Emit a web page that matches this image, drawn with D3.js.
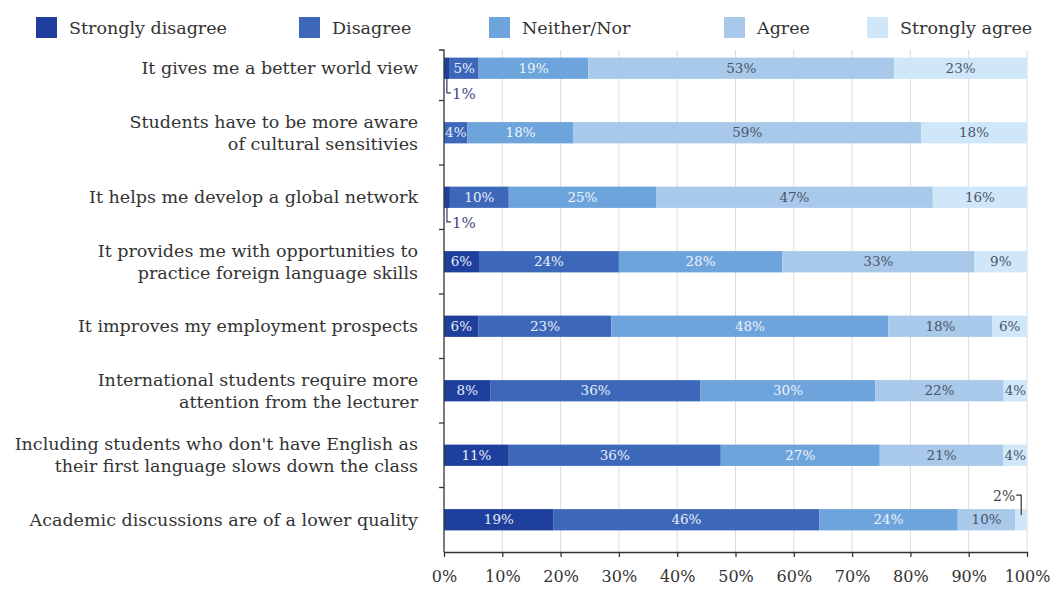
<!DOCTYPE html>
<html><head><meta charset="utf-8">
<script src="https://cdn.jsdelivr.net/npm/d3@7"></script>
<style>body{margin:0;background:#fff}svg{display:block}</style>
</head><body><svg id="chart" width="1055" height="589"></svg>
<script>
const categories = [
  "It gives me a better world view",
  "Students have to be more aware\nof cultural sensitivies",
  "It helps me develop a global network",
  "It provides me with opportunities to\npractice foreign language skills",
  "It improves my employment prospects",
  "International students require more\nattention from the lecturer",
  "Including students who don't have English as\ntheir first language slows down the class",
  "Academic discussions are of a lower quality"
];
const seriesNames = ["Strongly disagree", "Disagree", "Neither/Nor", "Agree", "Strongly agree"];
const stronglyDisagree = [1, 0, 1, 6, 6, 8, 11, 19];
const disagree         = [5, 4, 10, 24, 23, 36, 36, 46];
const neitherNor       = [19, 18, 25, 28, 48, 30, 27, 24];
const agree            = [53, 59, 47, 33, 18, 22, 21, 10];
const stronglyAgree    = [23, 18, 16, 9, 6, 4, 4, 2];
const xTickValues = [0, 10, 20, 30, 40, 50, 60, 70, 80, 90, 100];

const colors = ["#1f3f9c", "#3d68ba", "#6da4dc", "#a8c9ea", "#cfe7f8"];
const labelColors = ["#e8eefa", "#e8eefa", "#eef4fb", "#4a5468", "#4a5468"];
const FONT = "DejaVu Serif";

const seriesValues = [stronglyDisagree, disagree, neitherNor, agree, stronglyAgree];
const rows = categories.map((c, i) => {
  const o = {category: c};
  seriesNames.forEach((k, j) => o[k] = seriesValues[j][i]);
  return o;
});

const svg = d3.select("#chart");
const x = d3.scaleLinear().domain([0, 1]).range([444, 1027]);
const y = d3.scaleBand().domain(categories).range([36, 552]).paddingInner(0.67).paddingOuter(0.335);
const axisTop = 50;

// gridlines
svg.append("g").selectAll("line").data(xTickValues.filter(d => d > 0)).join("line")
  .attr("x1", d => x(d / 100)).attr("x2", d => x(d / 100))
  .attr("y1", axisTop).attr("y2", y.range()[1])
  .attr("stroke", "#dcdcdc").attr("stroke-width", 1);

// stacked bars
const stack = d3.stack().keys(seriesNames).offset(d3.stackOffsetExpand);
const series = stack(rows);

const gBars = svg.append("g");
series.forEach((s, si) => {
  gBars.append("g").attr("fill", colors[si]).selectAll("rect").data(s).join("rect")
    .attr("x", d => x(d[0])).attr("width", d => x(d[1]) - x(d[0]))
    .attr("y", d => y(d.data.category)).attr("height", y.bandwidth());
});

// segment labels
const gLab = svg.append("g").attr("font-family", FONT).attr("font-size", 13.5);
series.forEach((s, si) => {
  s.forEach(d => {
    const v = d.data[s.key];
    if (v === 0) return;
    const cx = (x(d[0]) + x(d[1])) / 2;
    const top = y(d.data.category), bot = top + y.bandwidth();
    if (v <= 2) {
      if (si === 0) {
        gLab.append("path").attr("fill", "none").attr("stroke", "#2c3a6e").attr("stroke-width", 1.2)
          .attr("d", `M${cx},${bot - 2}V${bot + 14}H${cx + 4}`);
        gLab.append("text").attr("x", cx + 5).attr("y", bot + 15).attr("dy", "0.35em")
          .attr("font-size", 15).attr("fill", "#3d4a85").text(v + "%");
      } else {
        gLab.append("path").attr("fill", "none").attr("stroke", "#333").attr("stroke-width", 1.2)
          .attr("d", `M${cx},${top + 6}V${top - 14}H${cx - 5}`);
        gLab.append("text").attr("x", cx - 6).attr("y", top - 13).attr("dy", "0.35em")
          .attr("font-size", 14).attr("text-anchor", "end").attr("fill", "#444").text(v + "%");
      }
    } else {
      gLab.append("text").attr("x", cx).attr("y", top + y.bandwidth() / 2).attr("dy", "0.35em")
        .attr("text-anchor", "middle").attr("fill", labelColors[si]).text(v + "%");
    }
  });
});

// y axis
const gy = svg.append("g");
gy.append("path").attr("fill", "none").attr("stroke", "#333").attr("stroke-width", 1.3)
  .attr("d", `M439,${axisTop}H444V${y.range()[1]}`);
gy.selectAll("line").data(categories.slice(1)).join("line")
  .attr("x1", 439).attr("x2", 444)
  .attr("y1", d => y(d) - y.step() * y.paddingInner() / 2)
  .attr("y2", d => y(d) - y.step() * y.paddingInner() / 2)
  .attr("stroke", "#333").attr("stroke-width", 1.3);

// category labels
const gCat = svg.append("g").attr("font-family", FONT).attr("font-size", 17.5).attr("fill", "#333").attr("text-anchor", "end");
categories.forEach(c => {
  const lines = c.split("\n");
  const cy = y(c) + y.bandwidth() / 2;
  const t = gCat.append("text").attr("x", 418);
  lines.forEach((ln, i) => {
    t.append("tspan").attr("x", 418).attr("y", cy + (i - (lines.length - 1) / 2) * 22).attr("dy", "0.35em").text(ln);
  });
});

// x axis
const xAxis = d3.axisBottom(x).tickValues(xTickValues.map(d => d / 100))
  .tickFormat(d => Math.round(d * 100) + "%").tickSize(5).tickSizeOuter(0).tickPadding(14);
const gx = svg.append("g").attr("transform", `translate(0,${y.range()[1]})`).call(xAxis);
gx.select(".domain").attr("stroke", "#333").attr("stroke-width", 1.3);
gx.selectAll(".tick line").attr("stroke", "#333").attr("stroke-width", 1.3);
gx.selectAll(".tick text").attr("font-family", FONT).attr("font-size", 16).attr("fill", "#333");

// legend
const legendX = [36, 299, 489, 724, 867];
const gLeg = svg.append("g").attr("font-family", FONT).attr("font-size", 17.5).attr("fill", "#333");
seriesNames.forEach((n, i) => {
  gLeg.append("rect").attr("x", legendX[i]).attr("y", 17).attr("width", 21).attr("height", 21).attr("fill", colors[i]);
  gLeg.append("text").attr("x", legendX[i] + 33).attr("y", 28).attr("dy", "0.35em").text(n);
});
</script></body></html>
